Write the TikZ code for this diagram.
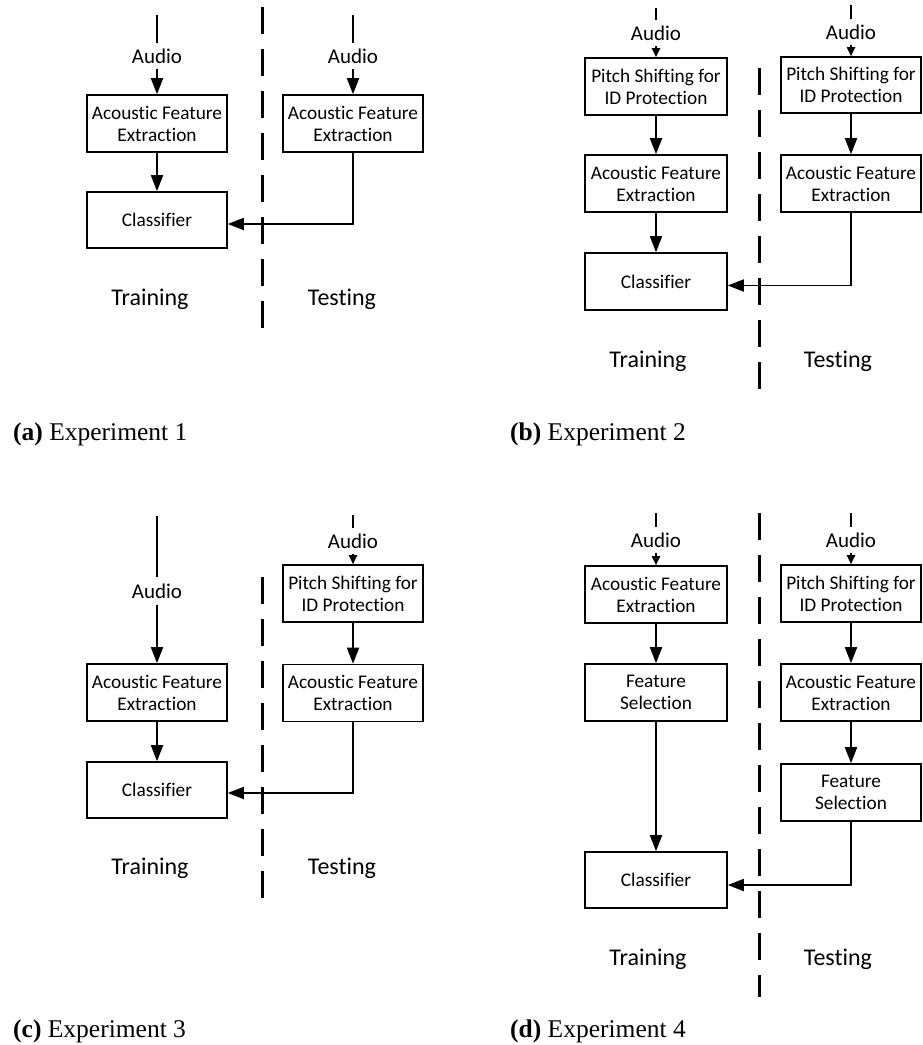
\documentclass[tikz,border=0pt]{standalone}
\usepackage{fontspec}
\newfontfamily\calibri[Ligatures=NoCommon]{Carlito}
\newfontfamily\capfont{Liberation Serif}
\usetikzlibrary{arrows.meta}
\tikzset{
  box/.style={draw, line width=1.6pt, minimum width=140pt, minimum height=57pt, inner sep=0pt, align=center, font=\calibri\fontsize{19.3}{22}\selectfont},
  audiolbl/.style={inner sep=0pt, text height=14pt, text depth=0pt, minimum height=26pt, font=\calibri\fontsize{21}{24}\selectfont},
  phase/.style={anchor=base, inner sep=0pt, font=\calibri\fontsize{24}{28}\selectfont},
  arr/.style={line width=1.8pt, -{Triangle[length=16pt,width=12pt]}},
  arrs/.style={line width=1.8pt, -{Triangle[length=9pt,width=8pt]}},
  plain/.style={line width=1.8pt},
  divider/.style={line width=3pt, dash pattern=on 27pt off 15pt},
  captext/.style={anchor=base west, inner sep=0pt, font=\capfont\fontsize{25.5}{28}\selectfont}
}
\begin{document}
\begin{tikzpicture}[x=1pt,y=-1pt]
\useasboundingbox (0,0) rectangle (922,1045);
% ---------- Panel (a)
\coordinate (a1s) at (157,15);
\node[audiolbl] (a1au) at (157,56) {Audio};
\node[box] (a1afe) at (157,123.5) {Acoustic Feature\\Extraction};
\node[box, minimum height=56pt] (a1cls) at (157,220) {Classifier};
\coordinate (a2s) at (353,15);
\node[audiolbl] (a2au) at (353,56) {Audio};
\node[box] (a2afe) at (353,123.5) {Acoustic Feature\\Extraction};
\coordinate (adt) at (262,7);
\coordinate (adb) at (262,338);
\node[phase] (atr) at (150,305) {Training};
\node[phase] (ate) at (342,305) {Testing};
\draw[plain] (a1s) -- (a1au.north);
\draw[arr] (a1au.south) -- (a1afe.north);
\draw[arr] (a1afe.south) -- (a1cls.north);
\draw[plain] (a2s) -- (a2au.north);
\draw[arr] (a2au.south) -- (a2afe.north);
\draw[arr] (a2afe.south) |- ([yshift=-4pt]a1cls.east);
\draw[divider] (adt) -- (adb);
\node[captext] (capa) at (13,440) {\textbf{(a)} Experiment 1};
% ---------- Panel (b)
\coordinate (b1s) at (656,8);
\node[audiolbl] (b1au) at (656,33) {Audio};
\node[box, minimum width=142pt] (b1ps) at (656,86.5) {Pitch Shifting for\\ID Protection};
\node[box, minimum width=142pt] (b1afe) at (656,183.5) {Acoustic Feature\\Extraction};
\node[box, minimum width=142pt] (b1cls) at (656,281.5) {Classifier};
\coordinate (b2s) at (851,5);
\node[audiolbl] (b2au) at (851,32) {Audio};
\node[box, minimum height=56pt] (b2ps) at (851,85) {Pitch Shifting for\\ID Protection};
\node[box] (b2afe) at (851,183.5) {Acoustic Feature\\Extraction};
\coordinate (bdt) at (759,68);
\coordinate (bdb) at (759,397);
\node[phase] (btr) at (648,367) {Training};
\node[phase] (bte) at (838,367) {Testing};
\draw[plain] (b1s) -- (b1au.north);
\draw[arrs] (b1au.south) -- (b1ps.north);
\draw[arr] (b1ps.south) -- (b1afe.north);
\draw[arr] (b1afe.south) -- (b1cls.north);
\draw[plain] (b2s) -- (b2au.north);
\draw[arrs] (b2au.south) -- (b2ps.north);
\draw[arr] (b2ps.south) -- (b2afe.north);
\draw[arr] (b2afe.south) |- ([yshift=-4pt]b1cls.east);
\draw[divider] (bdt) -- (bdb);
\node[captext] (capb) at (510,440) {\textbf{(b)} Experiment 2};
% ---------- Panel (c)
\coordinate (c1s) at (157,516);
\node[audiolbl, minimum height=28pt] (c1au) at (157,591) {Audio};
\node[box] (c1afe) at (157,692.5) {Acoustic Feature\\Extraction};
\node[box, minimum height=56pt] (c1cls) at (157,790) {Classifier};
\coordinate (c2s) at (353,515);
\node[audiolbl] (c2au) at (353,541) {Audio};
\node[box] (c2ps) at (353,593.5) {Pitch Shifting for\\ID Protection};
\node[box] (c2afe) at (353,693) {Acoustic Feature\\Extraction};
\coordinate (cdt) at (262,577);
\coordinate (cdb) at (262,905);
\node[phase] (ctr) at (150,874) {Training};
\node[phase] (cte) at (342,874) {Testing};
\draw[plain] (c1s) -- (c1au.north);
\draw[arr] (c1au.south) -- (c1afe.north);
\draw[arr] (c1afe.south) -- (c1cls.north);
\draw[plain] (c2s) -- (c2au.north);
\draw[arrs] (c2au.south) -- (c2ps.north);
\draw[arr] (c2ps.south) -- (c2afe.north);
\draw[arr] (c2afe.south) |- ([yshift=-3pt]c1cls.east);
\draw[divider] (cdt) -- (cdb);
\node[captext] (capc) at (13,1037) {\textbf{(c)} Experiment 3};
% ---------- Panel (d)
\coordinate (d1s) at (656,513);
\node[audiolbl] (d1au) at (656,540) {Audio};
\node[box, minimum width=142pt] (d1afe) at (656,594.5) {Acoustic Feature\\Extraction};
\node[box, minimum width=142pt] (d1fs) at (656,692.5) {Feature\\Selection};
\node[box, minimum width=142pt, minimum height=56pt] (d1cls) at (656,880) {Classifier};
\coordinate (d2s) at (851,513);
\node[audiolbl] (d2au) at (851,540) {Audio};
\node[box] (d2ps) at (851,593.5) {Pitch Shifting for\\ID Protection};
\node[box] (d2afe) at (851,692.5) {Acoustic Feature\\Extraction};
\node[box] (d2fs) at (851,792.5) {Feature\\Selection};
\coordinate (ddt) at (759,513);
\coordinate (ddb) at (759,997);
\node[phase] (dtr) at (648,965) {Training};
\node[phase] (dte) at (838,965) {Testing};
\draw[plain] (d1s) -- (d1au.north);
\draw[arrs] (d1au.south) -- (d1afe.north);
\draw[arr] (d1afe.south) -- (d1fs.north);
\draw[arr] (d1fs.south) -- (d1cls.north);
\draw[plain] (d2s) -- (d2au.north);
\draw[arrs] (d2au.south) -- (d2ps.north);
\draw[arr] (d2ps.south) -- (d2afe.north);
\draw[arr] (d2afe.south) -- (d2fs.north);
\draw[arr] (d2fs.south) |- ([yshift=-5pt]d1cls.east);
\draw[divider] (ddt) -- (ddb);
\node[captext] (capd) at (510,1037) {\textbf{(d)} Experiment 4};
\end{tikzpicture}
\end{document}
